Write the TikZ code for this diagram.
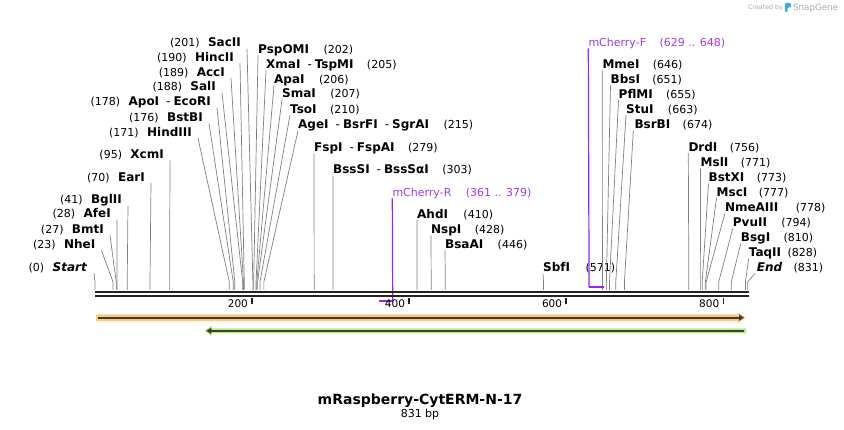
\documentclass[tikz,border=0pt]{standalone}
\usepackage{fontspec}
\setmainfont{DejaVu Sans}
\usetikzlibrary{positioning,arrows.meta}

\definecolor{cutgray}{RGB}{128,128,128}
\definecolor{axisdark}{RGB}{34,34,34}
\definecolor{primerline}{RGB}{160,32,240}
\definecolor{primertext}{RGB}{160,60,230}
\definecolor{orangefeat}{RGB}{251,201,121}
\definecolor{greenfeat}{RGB}{186,236,128}
\definecolor{featdark}{RGB}{60,60,60}
\definecolor{wmgray}{RGB}{170,170,170}
\definecolor{snapblue}{RGB}{60,170,240}

% base pair -> x position
\newcommand{\sx}[1]{95+0.7855*#1}
\newcommand{\enzsep}{\hspace{7pt}{\mdseries -}\hspace{3pt}}

\tikzset{
  enz/.style={font=\bfseries\fontsize{12}{14}\selectfont, inner sep=0pt},
  num/.style={font=\fontsize{11}{13}\selectfont, inner sep=0pt},
  cut/.style={draw=cutgray, line width=0.7pt},
  primer/.style={text=primertext, font=\fontsize{11}{13}\selectfont, inner sep=0pt},
  primerwire/.style={draw=primerline, line width=1.2pt},
  seqline/.style={draw=axisdark, line width=2pt},
  tick/.style={draw=axisdark, line width=1.8pt},
  ticklbl/.style={font=\fontsize{10.5}{12}\selectfont, inner sep=0pt},
  featline/.style={draw=featdark, line width=2.2pt, -{Triangle[length=5pt,width=6pt]}},
}

\begin{document}
\begin{tikzpicture}[x=1pt, y=-1pt]
\useasboundingbox (0,0) rectangle (844,430);

% watermark
\node[font=\fontsize{6.3}{7}\selectfont, text=wmgray, inner sep=0pt, anchor=base west] (created) at (748,9.5) {Created by};
\fill[snapblue, rounded corners=0.8pt] (785,3) -- (791,3) -- (791,7) -- (787.5,8) -- (787.5,12) -- (785,12) -- cycle;
\node[font=\fontsize{8.7}{10}\selectfont, text=wmgray, inner sep=0pt, anchor=base west] (snapgene) at (793,10.5) {SnapGene};

% cut sites, labels on the left
\node[enz, anchor=base east] (sac) at (241,46.9) {SacII};
\node[num, base left=8pt of sac] (sacn) {(201)};
\draw[cut] ([shift={(6,2)}]sac.base east) -- ({\sx{201}},282) -- ({\sx{201}},290);

\node[enz, anchor=base east] (hinc) at (234,61.1) {HincII};
\node[num, base left=8pt of hinc] (hincn) {(190)};
\draw[cut] ([shift={(6,2)}]hinc.base east) -- ({\sx{190}},282) -- ({\sx{190}},290);

\node[enz, anchor=base east] (acc) at (225,76.1) {AccI};
\node[num, base left=8pt of acc] (accn) {(189)};
\draw[cut] ([shift={(6,2)}]acc.base east) -- ({\sx{189}},282) -- ({\sx{189}},290);

\node[enz, anchor=base east] (sal) at (216,90.9) {SalI};
\node[num, base left=8pt of sal] (saln) {(188)};
\draw[cut] ([shift={(6,2)}]sal.base east) -- ({\sx{188}},282) -- ({\sx{188}},290);

\node[enz, anchor=base east] (apo) at (211,105.9) {ApoI\enzsep EcoRI};
\node[num, base left=8pt of apo] (apon) {(178)};
\draw[cut] ([shift={(6,2)}]apo.base east) -- ({\sx{178}},282) -- ({\sx{178}},290);

\node[enz, anchor=base east] (bstb) at (203,121.4) {BstBI};
\node[num, base left=8pt of bstb] (bstbn) {(176)};
\draw[cut] ([shift={(6,2)}]bstb.base east) -- ({\sx{176}},282) -- ({\sx{176}},290);

\node[enz, anchor=base east] (hind) at (192,136.1) {HindIII};
\node[num, base left=8pt of hind] (hindn) {(171)};
\draw[cut] ([shift={(6,2)}]hind.base east) -- ({\sx{171}},282) -- ({\sx{171}},290);

\node[enz, anchor=base east] (xcm) at (164,158.4) {XcmI};
\node[num, base left=8pt of xcm] (xcmn) {(95)};
\draw[cut] ([shift={(6,2)}]xcm.base east) -- ({\sx{95}},282) -- ({\sx{95}},290);

\node[enz, anchor=base east] (ear) at (145,181.1) {EarI};
\node[num, base left=8pt of ear] (earn) {(70)};
\draw[cut] ([shift={(6,2)}]ear.base east) -- ({\sx{70}},282) -- ({\sx{70}},290);

\node[enz, anchor=base east] (bgl) at (122,203.7) {BglII};
\node[num, base left=8pt of bgl] (bgln) {(41)};
\draw[cut] ([shift={(6,2)}]bgl.base east) -- ({\sx{41}},282) -- ({\sx{41}},290);

\node[enz, anchor=base east] (afe) at (111,217.7) {AfeI};
\node[num, base left=8pt of afe] (afen) {(28)};
\draw[cut] ([shift={(6,2)}]afe.base east) -- ({\sx{28}},282) -- ({\sx{28}},290);

\node[enz, anchor=base east] (bmt) at (104,233.4) {BmtI};
\node[num, base left=8pt of bmt] (bmtn) {(27)};
\draw[cut] ([shift={(6,2)}]bmt.base east) -- ({\sx{27}},282) -- ({\sx{27}},290);

\node[enz, anchor=base east] (nhe) at (95.5,248.7) {NheI};
\node[num, base left=8pt of nhe] (nhen) {(23)};
\draw[cut] ([shift={(6,2)}]nhe.base east) -- ({\sx{23}},282) -- ({\sx{23}},290);

\node[enz, anchor=base east] (start) at (87,271.1) {\itshape Start};
\node[num, base left=8pt of start] (startn) {(0)};
\draw[cut] ([shift={(7,2)}]start.base east) -- ({\sx{0}},282) -- ({\sx{0}},290);

% cut sites, labels on the right
\node[enz, anchor=base west] (pspomi) at (258,53.4) {PspOMI};
\node[num, base right=14pt of pspomi] (pspomin) {(202)};
\draw[cut] ([shift={(0,2)}]pspomi.base west) -- ({\sx{202}},282) -- ({\sx{202}},290);

\node[enz, anchor=base west] (xma) at (266,68.4) {XmaI\enzsep TspMI};
\node[num, base right=13pt of xma] (xman) {(205)};
\draw[cut] ([shift={(0,2)}]xma.base west) -- ({\sx{205}},282) -- ({\sx{205}},290);

\node[enz, anchor=base west] (apa) at (274,83.4) {ApaI};
\node[num, base right=14pt of apa] (apan) {(206)};
\draw[cut] ([shift={(0,2)}]apa.base west) -- ({\sx{206}},282) -- ({\sx{206}},290);

\node[enz, anchor=base west] (sma) at (282,97.7) {SmaI};
\node[num, base right=14pt of sma] (sman) {(207)};
\draw[cut] ([shift={(0,2)}]sma.base west) -- ({\sx{207}},282) -- ({\sx{207}},290);

\node[enz, anchor=base west] (tso) at (290,113.1) {TsoI};
\node[num, base right=13pt of tso] (tson) {(210)};
\draw[cut] ([shift={(0,2)}]tso.base west) -- ({\sx{210}},282) -- ({\sx{210}},290);

\node[enz, anchor=base west] (age) at (298,128.7) {AgeI\enzsep BsrFI\enzsep SgrAI};
\node[num, base right=14pt of age] (agen) {(215)};
\draw[cut] ([shift={(0,2)}]age.base west) -- ({\sx{215}},282) -- ({\sx{215}},290);

\node[enz, anchor=base west] (fsp) at (314,151.4) {FspI\enzsep FspAI};
\node[num, base right=13pt of fsp] (fspn) {(279)};
\draw[cut] ([shift={(0,2)}]fsp.base west) -- ({\sx{279}},282) -- ({\sx{279}},290);

\node[enz, anchor=base west] (bsss) at (333,173.7) {BssSI\enzsep BssSαI};
\node[num, base right=13pt of bsss] (bsssn) {(303)};
\draw[cut] ([shift={(0,2)}]bsss.base west) -- ({\sx{303}},282) -- ({\sx{303}},290);

\node[enz, anchor=base west] (ahd) at (417,218.1) {AhdI};
\node[num, base right=15pt of ahd] (ahdn) {(410)};
\draw[cut] ([shift={(0,2)}]ahd.base west) -- ({\sx{410}},282) -- ({\sx{410}},290);

\node[enz, anchor=base west] (nsp) at (431,233.4) {NspI};
\node[num, base right=13pt of nsp] (nspn) {(428)};
\draw[cut] ([shift={(0,2)}]nsp.base west) -- ({\sx{428}},282) -- ({\sx{428}},290);

\node[enz, anchor=base west] (bsaa) at (445,248.4) {BsaAI};
\node[num, base right=14pt of bsaa] (bsaan) {(446)};
\draw[cut] ([shift={(0,2)}]bsaa.base west) -- ({\sx{446}},282) -- ({\sx{446}},290);

\node[enz, anchor=base west] (sbf) at (543,271.7) {SbfI};
\node[num, base right=15pt of sbf] (sbfn) {(571)};
\draw[cut] ([shift={(0,2)}]sbf.base west) -- ({\sx{571}},282) -- ({\sx{571}},290);

\node[enz, anchor=base west] (mme) at (602.3,68.4) {MmeI};
\node[num, base right=13pt of mme] (mmen) {(646)};
\draw[cut] ([shift={(0,2)}]mme.base west) -- ({\sx{646}},282) -- ({\sx{646}},290);

\node[enz, anchor=base west] (bbs) at (610.5,83.4) {BbsI};
\node[num, base right=12pt of bbs] (bbsn) {(651)};
\draw[cut] ([shift={(0,2)}]bbs.base west) -- ({\sx{651}},282) -- ({\sx{651}},290);

\node[enz, anchor=base west] (pflm) at (618.5,98.4) {PflMI};
\node[num, base right=13pt of pflm] (pflmn) {(655)};
\draw[cut] ([shift={(0,2)}]pflm.base west) -- ({\sx{655}},282) -- ({\sx{655}},290);

\node[enz, anchor=base west] (stu) at (626,113.1) {StuI};
\node[num, base right=14pt of stu] (stun) {(663)};
\draw[cut] ([shift={(0,2)}]stu.base west) -- ({\sx{663}},282) -- ({\sx{663}},290);

\node[enz, anchor=base west] (bsrb) at (634.3,128.7) {BsrBI};
\node[num, base right=12pt of bsrb] (bsrbn) {(674)};
\draw[cut] ([shift={(-1,2)}]bsrb.base west) -- ({\sx{674}},282) -- ({\sx{674}},290);

\node[enz, anchor=base west] (drd) at (688.3,151.1) {DrdI};
\node[num, base right=12pt of drd] (drdn) {(756)};
\draw[cut] ([shift={(0,2)}]drd.base west) -- ({\sx{756}},282) -- ({\sx{756}},290);

\node[enz, anchor=base west] (msl) at (700.5,166.7) {MslI};
\node[num, base right=12pt of msl] (msln) {(771)};
\draw[cut] ([shift={(0,2)}]msl.base west) -- ({\sx{771}},282) -- ({\sx{771}},290);

\node[enz, anchor=base west] (bstx) at (708.5,181.7) {BstXI};
\node[num, base right=12pt of bstx] (bstxn) {(773)};
\draw[cut] ([shift={(0,2)}]bstx.base west) -- ({\sx{773}},282) -- ({\sx{773}},290);

\node[enz, anchor=base west] (msc) at (716.5,196.2) {MscI};
\node[num, base right=11pt of msc] (mscn) {(777)};
\draw[cut] ([shift={(0,2)}]msc.base west) -- ({\sx{777}},282) -- ({\sx{777}},290);

\node[enz, anchor=base west] (nmea) at (724.8,211.7) {NmeAIII};
\node[num, base right=17pt of nmea] (nmean) {(778)};
\draw[cut] ([shift={(0,2)}]nmea.base west) -- ({\sx{778}},282) -- ({\sx{778}},290);

\node[enz, anchor=base west] (pvu) at (732.7,226.7) {PvuII};
\node[num, base right=14pt of pvu] (pvun) {(794)};
\draw[cut] ([shift={(0,2)}]pvu.base west) -- ({\sx{794}},282) -- ({\sx{794}},290);

\node[enz, anchor=base west] (bsg) at (740.7,241.7) {BsgI};
\node[num, base right=13pt of bsg] (bsgn) {(810)};
\draw[cut] ([shift={(0,2)}]bsg.base west) -- ({\sx{810}},282) -- ({\sx{810}},290);

\node[enz, anchor=base west] (taq) at (748.7,256.7) {TaqII};
\node[num, base right=6pt of taq] (taqn) {(828)};
\draw[cut] ([shift={(0,2)}]taq.base west) -- ({\sx{828}},282) -- ({\sx{828}},290);

\node[enz, anchor=base west] (endsite) at (756.7,271.1) {\itshape End};
\node[num, base right=11pt of endsite] (endsiten) {(831)};
\draw[cut] ([shift={(-1.5,2)}]endsite.base west) -- ({\sx{831}},282) -- ({\sx{831}},290);

% primers
\node[primer, anchor=base west] (mcr) at (392.3,196.3) {mCherry-R};
\node[primer, base right=14pt of mcr] (mcrn) {(361 .. 379)};
\draw[primerwire] ([shift={(0,2)}]mcr.base west) -- ({\sx{379}},301) coordinate (mcrend);
\draw[primerwire, line width=2pt] (mcrend) -- ({\sx{361}},301);

\node[primer, anchor=base west] (mcf) at (588.3,46.3) {mCherry-F};
\node[primer, base right=13pt of mcf] (mcfn) {(629 .. 648)};
\draw[primerwire] ([shift={(0,2)}]mcf.base west) -- ({\sx{629}},287.3) coordinate (mcfend);
\draw[primerwire, line width=2pt] (mcfend) -- ({\sx{648}},287.3);

% sequence
\coordinate (seqstart) at (95,292.3);
\coordinate (seqend) at (749,292.3);
\draw[seqline] (seqstart) -- (seqend);
\draw[seqline] ([yshift=-3.8pt]seqstart) -- ([yshift=-3.8pt]seqend);

% ruler
\draw[tick] ({\sx{200}},298) -- ++(0,6.5);
\node[ticklbl, anchor=base east] (t200) at ({\sx{200}-4},307.7) {200};
\draw[tick] ({\sx{400}},298) -- ++(0,6.5);
\node[ticklbl, anchor=base east] (t400) at ({\sx{400}-4},307.7) {400};
\draw[tick] ({\sx{600}},298) -- ++(0,6.5);
\node[ticklbl, anchor=base east] (t600) at ({\sx{600}-4},307.7) {600};
\draw[tick] ({\sx{800}},298) -- ++(0,6.5);
\node[ticklbl, anchor=base east] (t800) at ({\sx{800}-4},307.7) {800};

% features
\fill[orangefeat] (96,314.3) -- (737.7,314.3) -- (737.7,312.4) -- (745.7,317.7) -- (737.7,323) -- (737.7,321.1) -- (96,321.1) -- cycle;
\draw[featline] (98,317.7) -- (744,317.7);
\fill[greenfeat] (746,328.3) -- (211.7,328.3) -- (211.7,325.7) -- (204.3,330.8) -- (211.7,336) -- (211.7,333.3) -- (746,333.3) -- cycle;
\draw[featline] (744,330.8) -- (206.3,330.8);

% title
\node[font=\bfseries\fontsize{14}{16}\selectfont, inner sep=0pt, anchor=base] (title) at (420,404.3) {mRaspberry-CytERM-N-17};
\node[font=\fontsize{11}{13}\selectfont, inner sep=0pt, anchor=base] (length) at (420,417.5) {831 bp};
\end{tikzpicture}
\end{document}
